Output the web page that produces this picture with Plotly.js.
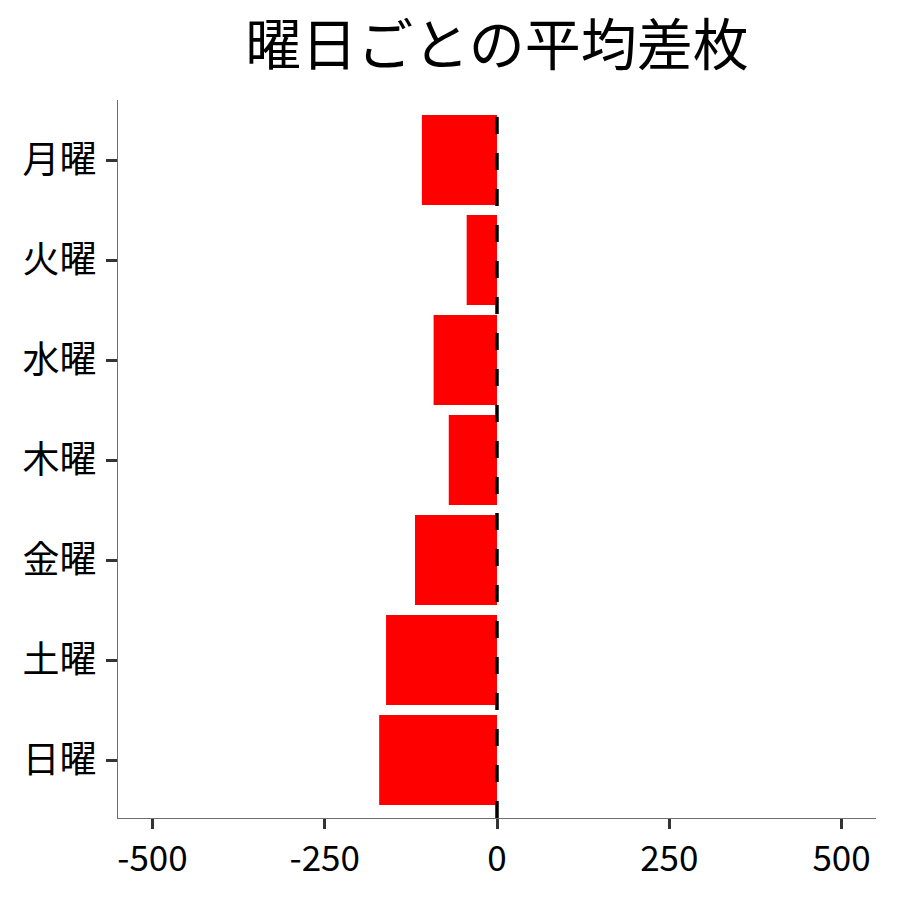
<!DOCTYPE html>
<html>
<head>
<meta charset="utf-8">
<script src="https://cdn.plot.ly/plotly-3.0.1.min.js"></script>
<style>html,body{margin:0;padding:0;background:#fff;}#chart{width:900px;height:900px;}</style>
</head>
<body>
<div id="chart"></div>
<script>
const days = ["月曜", "火曜", "水曜", "木曜", "金曜", "土曜", "日曜"];
const avgDiff = [-109, -44, -92, -70, -119, -161, -171];
const xTicks = [-500, -250, 0, 250, 500];
const refValue = 0;
const titleText = "曜日ごとの平均差枚";

const FONT = "Noto Sans CJK JP, Noto Sans, sans-serif";

const trace = {
  type: "bar",
  orientation: "h",
  x: avgDiff,
  y: days,
  marker: {color: "#ff0000"},
  width: 0.9,
  hoverinfo: "x+y"
};

const layout = {
  width: 900,
  height: 900,
  margin: {l: 118, r: 24, t: 100, b: 82},
  paper_bgcolor: "#ffffff",
  plot_bgcolor: "#ffffff",
  showlegend: false,
  font: {family: FONT, color: "#000000"},
  title: {
    text: titleText,
    font: {family: FONT, size: 56, color: "#000000"},
    x: 0.5, xref: "paper", xanchor: "center",
    y: 0.95, yref: "container", yanchor: "middle"
  },
  xaxis: {
    range: [-550, 550],
    tickvals: xTicks,
    ticktext: xTicks.map(String),
    showgrid: false,
    zeroline: false,
    showline: true,
    linecolor: "#6e6e6e",
    linewidth: 1.2,
    ticks: "outside",
    ticklen: 10,
    tickwidth: 3,
    tickcolor: "#333333",
    tickfont: {family: FONT, size: 35, color: "#000000"},
    fixedrange: true
  },
  yaxis: {
    type: "category",
    categoryorder: "array",
    categoryarray: days,
    range: [6.58, -0.6],
    showgrid: false,
    zeroline: false,
    showline: true,
    linecolor: "#6e6e6e",
    linewidth: 1.2,
    ticks: "outside",
    ticklen: 11,
    tickwidth: 3,
    tickcolor: "#333333",
    ticklabelstandoff: 2,
    tickfont: {family: FONT, size: 37, color: "#000000"},
    fixedrange: true
  },
  shapes: [{
    type: "line",
    xref: "x", yref: "paper",
    x0: refValue, x1: refValue, y0: 0, y1: 1,
    line: {color: "#000000", width: 3.5, dash: "17px,19px"},
    layer: "above"
  }]
};

Plotly.newPlot("chart", [trace], layout, {displayModeBar: false, staticPlot: true});
</script>
</body>
</html>
